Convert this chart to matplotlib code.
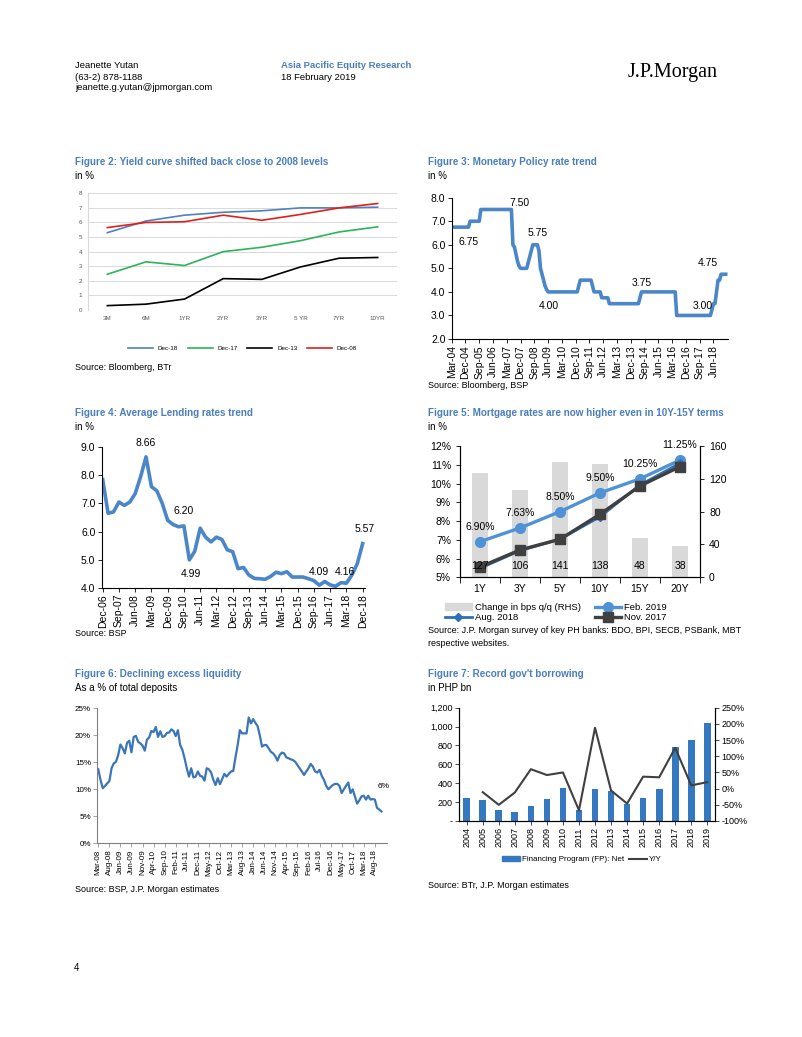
import numpy as np
import matplotlib
matplotlib.use("Agg")
import matplotlib.pyplot as plt
from matplotlib.patches import Patch
from matplotlib.lines import Line2D

plt.rcParams['font.family'] = ['Liberation Sans Narrow', 'Liberation Sans', 'DejaVu Sans']

# ---- data ----
# fig 2: yield curve
tenors = ['3M', '6M', '1YR', '2YR', '3YR', '5 YR', '7YR', '10YR']
dec18 = [5.3, 6.1, 6.5, 6.7, 6.8, 7.0, 7.0, 7.05]
dec17 = [2.45, 3.3, 3.05, 4.0, 4.3, 4.75, 5.35, 5.7]
dec13 = [0.3, 0.4, 0.75, 2.15, 2.1, 2.95, 3.55, 3.6]
dec08 = [5.65, 6.0, 6.05, 6.5, 6.15, 6.55, 7.0, 7.3]

# fig 3: policy rate, monthly Mar-04 .. Feb-19
policy_rate = ([6.75]*12 + [7.0]*7 + [7.5]*21 +
               [6.0, 5.9, 5.6, 5.3, 5.1] + [5.0]*5 + [5.25, 5.5, 5.75] + [6.0]*4 +
               [5.75, 5.0, 4.75, 4.5, 4.25, 4.1] + [4.0]*20 + [4.25] + [4.5]*8 +
               [4.25] + [4.0]*5 + [3.75]*5 + [3.5]*20 + [3.75] + [4.0]*23 +
               [3.0]*23 + [3.25, 3.5, 3.5, 4.0, 4.5, 4.5, 4.75, 4.75, 4.75, 4.75])
policy_ticks = ['Mar-04', 'Dec-04', 'Sep-05', 'Jun-06', 'Mar-07', 'Dec-07', 'Sep-08',
                'Jun-09', 'Mar-10', 'Dec-10', 'Sep-11', 'Jun-12', 'Mar-13', 'Dec-13',
                'Sep-14', 'Jun-15', 'Mar-16', 'Dec-16', 'Sep-17', 'Jun-18']
policy_notes = [('7.50', 44.6, 7.77), ('6.75', 11.3, 6.12), ('5.75', 56.4, 6.5),
                ('4.00', 63.6, 3.4), ('3.75', 124.4, 4.38), ('3.00', 164, 3.4),
                ('4.75', 167.5, 5.23)]

# fig 4: lending rates, quarterly Dec-06 .. Dec-18
lending = [7.85, 6.65, 6.7, 7.05, 6.93, 7.05, 7.35, 7.95, 8.66, 7.6, 7.45, 7.0, 6.4,
           6.25, 6.17, 6.2, 4.99, 5.3, 6.12, 5.8, 5.63, 5.8, 5.72, 5.35, 5.28, 4.68,
           4.72, 4.45, 4.33, 4.32, 4.3, 4.4, 4.55, 4.5, 4.57, 4.38, 4.38, 4.38, 4.32,
           4.25, 4.09, 4.22, 4.1, 4.05, 4.18, 4.16, 4.45, 4.85, 5.57]
lending_ticks = ['Dec-06', 'Sep-07', 'Jun-08', 'Mar-09', 'Dec-09', 'Sep-10', 'Jun-11',
                 'Mar-12', 'Dec-12', 'Sep-13', 'Jun-14', 'Mar-15', 'Dec-15', 'Sep-16',
                 'Jun-17', 'Mar-18', 'Dec-18']
lending_notes = [('8.66', 24, 9.14), ('6.20', 44.7, 6.73), ('4.99', 49, 4.48),
                 ('4.09', 120, 4.57), ('4.16', 134, 4.57), ('5.57', 145, 6.08)]

# fig 5: mortgage rates
terms = ['1Y', '3Y', '5Y', '10Y', '15Y', '20Y']
chg_bps = [127, 106, 141, 138, 48, 38]
feb19 = [6.90, 7.63, 8.50, 9.50, 10.25, 11.25]
aug18 = [5.48, 6.42, 7.03, 8.23, 9.92, 11.08]
nov17 = [5.55, 6.46, 7.03, 8.36, 9.87, 10.9]

# fig 6: excess liquidity, monthly Mar-08 .. Dec-18
liquidity = [13.7, 11.75, 10.2, 10.6, 11.1, 11.5, 13.9, 14.8, 15.1, 16.35, 18.3, 17.6,
             16.65, 18.6, 19.0, 16.85, 19.7, 19.9, 18.8, 18.5, 18.1, 17.15, 19.2, 19.6,
             20.8, 20.6, 21.55, 19.7, 20.75, 19.7, 19.85, 20.45, 20.5, 21.1, 20.8, 19.85,
             20.95, 18.2, 17.3, 15.75, 13.9, 12.35, 13.9, 12.2, 12.35, 13.3, 12.5, 12.35,
             11.6, 13.9, 13.7, 13.1, 11.75, 10.8, 12.05, 10.95, 11.9, 12.85, 12.35, 12.85,
             13.3, 13.4, 15.9, 18.2, 20.95, 20.35,
             20.35, 20.35, 23.3, 22.2, 23.0, 22.3, 21.7, 20.0, 17.9, 18.2, 18.2, 17.6,
             16.95, 16.65, 16.15, 15.3, 16.35, 16.8, 16.65, 15.9, 15.75, 15.55, 15.4,
             15.1, 14.5, 13.9, 13.3, 12.65, 13.3, 13.9, 14.7, 14.2, 13.3, 13.1, 13.6,
             12.5, 11.75, 10.65, 10.0, 10.4, 10.8, 11.0, 11.0, 10.65, 9.3, 10.0, 10.65,
             11.25, 9.3, 10.0, 8.7, 7.35, 7.95, 8.7, 8.8, 8.1, 8.8, 8.1, 8.2, 8.1, 6.55,
             6.25, 5.9]
liq_ticks = ['Mar-08', 'Aug-08', 'Jan-09', 'Jun-09', 'Nov-09', 'Apr-10', 'Sep-10',
             'Feb-11', 'Jul-11', 'Dec-11', 'May-12', 'Oct-12', 'Mar-13', 'Aug-13',
             'Jan-14', 'Jun-14', 'Nov-14', 'Apr-15', 'Sep-15', 'Feb-16', 'Jul-16',
             'Dec-16', 'May-17', 'Oct-17', 'Mar-18', 'Aug-18']

# fig 7: gov't borrowing
years = [str(y) for y in range(2004, 2020)]
fin_prog = [247, 222, 113, 99, 162, 233, 353, 116, 335, 318, 180, 244, 335, 780, 858, 1041]
yoy = [np.nan, -11, -50, -12, 60, 42, 50, -67, 188, -6, -46, 37, 35, 126, 10, 20]

# ---- layout helpers ----
W, H = 802, 1037
fig = plt.figure(figsize=(W / 100, H / 100), dpi=100)

def ax_at(x0, y0, x1, y1):
    return fig.add_axes([x0 / W, 1 - y1 / H, (x1 - x0) / W, (y1 - y0) / H])

def txt(x, y, s, **kw):
    kw.setdefault('va', 'center')
    fig.text(x / W, 1 - y / H, s, **kw)

blue_t = '#4A7EBB'
line_blue = '#4A86C8'

# header
txt(75, 66, 'Jeanette Yutan', fontsize=6.8, family='Liberation Sans')
txt(75, 77, '(63-2) 878-1188', fontsize=6.8, family='Liberation Sans')
txt(75, 88, 'jeanette.g.yutan@jpmorgan.com', fontsize=6.8, family='Liberation Sans')
txt(281, 66, 'Asia Pacific Equity Research', fontsize=6.8, family='Liberation Sans',
    color=blue_t, weight='bold')
txt(281, 77, '18 February 2019', fontsize=6.8, family='Liberation Sans')
txt(628, 72, 'J.P.Morgan', fontsize=14.5, family='Liberation Serif')
txt(74, 968, '4', fontsize=7, family='Liberation Sans')

def titles(x, y, t, sub):
    txt(x, y, t, fontsize=7.1, weight='bold', color=blue_t)
    txt(x, y + 14, sub, fontsize=7.0)

def source(x, y, s):
    txt(x, y, s, fontsize=6.5, va='top' if '\n' in s else 'center', linespacing=1.5)

# ---- Figure 2 ----
titles(75, 162, 'Figure 2: Yield curve shifted back close to 2008 levels', 'in %')
ax2 = ax_at(88, 193.3, 397, 310)
x = np.arange(len(tenors))
ax2.plot(x, dec18, color='#4F81BD', lw=1.2, label='Dec-18')
ax2.plot(x, dec17, color='#2DB35A', lw=1.2, label='Dec-17')
ax2.plot(x, dec13, color='black', lw=1.2, label='Dec-13')
ax2.plot(x, dec08, color='#E0201B', lw=1.2, label='Dec-08')
ax2.set_xlim(-0.5, 7.5)
ax2.set_ylim(0, 8)
ax2.set_yticks(range(9))
ax2.set_xticks(x)
ax2.set_xticklabels(tenors)
ax2.grid(axis='y', color='#D9D9D9', lw=0.7)
ax2.set_axisbelow(True)
for s in ['top', 'right', 'bottom']:
    ax2.spines[s].set_visible(False)
ax2.spines['left'].set_color('#D9D9D9')
ax2.tick_params(length=0, labelsize=4.5, colors='#595959', pad=4)
ax2.legend(loc='center', bbox_to_anchor=(0.5, -0.33), ncol=4, fontsize=4.5,
           frameon=False, handlelength=4, columnspacing=1.5)
source(75, 368, 'Source: Bloomberg, BTr')

# ---- Figure 3 ----
titles(428, 162, 'Figure 3: Monetary Policy rate trend', 'in %')
ax3 = ax_at(451.7, 197.7, 728, 339)
ax3.plot(np.arange(len(policy_rate)), policy_rate, color=line_blue, lw=2.6)
ax3.set_xlim(0, 180.5)
ax3.set_ylim(2, 8)
ax3.set_yticks(np.arange(2, 8.1, 1))
ax3.set_yticklabels(['%.1f' % v for v in np.arange(2, 8.1, 1)])
ax3.set_xticks(np.arange(0, len(policy_ticks) * 9, 9))
ax3.set_xticklabels(policy_ticks, rotation=90)
for s in ['top', 'right']:
    ax3.spines[s].set_visible(False)
ax3.tick_params(labelsize=7.5, length=3, width=0.6, pad=1.5)
for lab, xx, yy in policy_notes:
    ax3.text(xx, yy, lab, fontsize=7.5, ha='center', va='center', clip_on=False)
source(428, 385, 'Source: Bloomberg, BSP')

# ---- Figure 4 ----
titles(75, 412.7, 'Figure 4: Average Lending rates trend', 'in %')
ax4 = ax_at(101.7, 447.3, 365, 587.7)
ax4.plot(np.arange(len(lending)) * 3, lending, color=line_blue, lw=2.6)
ax4.set_xlim(-0.55, 145.3)
ax4.set_ylim(4, 9)
ax4.set_yticks(np.arange(4, 9.1, 1))
ax4.set_yticklabels(['%.1f' % v for v in np.arange(4, 9.1, 1)])
ax4.set_xticks(np.arange(0, len(lending_ticks) * 9, 9))
ax4.set_xticklabels(lending_ticks, rotation=90)
for s in ['top', 'right']:
    ax4.spines[s].set_visible(False)
ax4.tick_params(labelsize=7.5, length=3, width=0.6, pad=1.5)
for lab, xx, yy in lending_notes:
    ax4.text(xx, yy, lab, fontsize=7.5, ha='center', va='center', clip_on=False)
source(75, 634, 'Source: BSP')

# ---- Figure 5 ----
titles(428, 412.7, 'Figure 5: Mortgage rates are now higher even in 10Y-15Y terms', 'in %')
ax5 = ax_at(460, 446, 700, 577.3)
ax5r = ax5.twinx()
xt = np.arange(len(terms))
ax5r.bar(xt, chg_bps, width=0.4, color='#D9D9D9')
ax5r.set_ylim(0, 160)
ax5r.set_yticks(range(0, 161, 40))
ax5.set_zorder(ax5r.get_zorder() + 1)
ax5.patch.set_visible(False)
ax5.plot(xt, feb19, color='#4F93D6', lw=2.4, marker='o', ms=7)
ax5.plot(xt, aug18, color='#2F6FB5', lw=2, marker='D', ms=4)
ax5.plot(xt, nov17, color='#404040', lw=2.4, marker='s', ms=6.5)
for i, v in enumerate(feb19):
    ax5.text(i, v + 0.8, '%.2f%%' % v, fontsize=7.5, ha='center', va='center', clip_on=False)
for i, v in enumerate(chg_bps):
    ax5.text(i, 5.62, str(v), fontsize=7.5, ha='center', va='center', zorder=10)
ax5.set_xlim(-0.5, 5.5)
ax5.set_ylim(5, 12)
ax5.set_yticks(range(5, 13))
ax5.set_yticklabels(['%d%%' % v for v in range(5, 13)])
ax5.set_xticks(xt)
ax5.set_xticklabels(terms)
ax5.set_xticks(np.arange(-0.5, 6, 1), minor=True)
ax5.tick_params(axis='x', which='major', length=0, pad=5)
ax5.tick_params(axis='x', which='minor', length=4, width=0.6)
for a in (ax5, ax5r):
    a.spines['top'].set_visible(False)
    a.tick_params(labelsize=7.5)
    a.tick_params(axis='y', length=3, width=0.6)
h5 = [Patch(color='#D9D9D9'),
      Line2D([], [], color='#2F6FB5', lw=2, marker='D', ms=4),
      Line2D([], [], color='#4F93D6', lw=2.4, marker='o', ms=7),
      Line2D([], [], color='#404040', lw=2.4, marker='s', ms=6.5)]
l5 = ['Change in bps q/q (RHS)', 'Aug. 2018', 'Feb. 2019', 'Nov. 2017']
ax5.legend(h5, l5, loc='center', bbox_to_anchor=(0.40, -0.27), ncol=2, fontsize=6.8,
           frameon=False, handlelength=2.8, columnspacing=1.5, labelspacing=0.15,
           handletextpad=0.3)
source(428, 626, 'Source: J.P. Morgan survey of key PH banks: BDO, BPI, SECB, PSBank, MBT\nrespective websites.')

# ---- Figure 6 ----
titles(75, 674, 'Figure 6: Declining excess liquidity', 'As a % of total deposits')
ax6 = ax_at(97.3, 708.3, 387, 843.3)
ax6.plot(np.arange(len(liquidity)), liquidity, color='#3A76B6', lw=1.6)
ax6.set_xlim(-0.45, 130.5)
ax6.set_ylim(0, 25)
ax6.set_yticks(range(0, 26, 5))
ax6.set_yticklabels(['%d%%' % v for v in range(0, 26, 5)])
ax6.set_xticks(np.arange(0, len(liq_ticks) * 5, 5))
ax6.set_xticklabels(liq_ticks, rotation=90)
for s in ['top', 'right']:
    ax6.spines[s].set_visible(False)
ax6.spines['left'].set_color('#808080')
ax6.spines['bottom'].set_color('#808080')
ax6.tick_params(labelsize=5.8, length=3, width=0.5, color='#808080', pad=1.5)
ax6.text(129.1, 10.6, '6%', fontsize=6, ha='center', va='center', clip_on=False)
source(75, 890, 'Source: BSP, J.P. Morgan estimates')

# ---- Figure 7 ----
titles(428, 674, "Figure 7: Record gov't borrowing", 'in PHP bn')
ax7 = ax_at(458.7, 707.7, 715.3, 821)
x7 = np.arange(len(years))
ax7.bar(x7, fin_prog, width=0.42, color='#3478C0', label='Financing Program (FP): Net')
ax7.set_xlim(-0.5, len(years) - 0.5)
ax7.set_ylim(0, 1200)
ax7.set_yticks(range(0, 1201, 200))
ax7.set_yticklabels(['-'] + ['{:,}'.format(v) for v in range(200, 1201, 200)])
ax7.set_xticks(x7)
ax7.set_xticklabels(years, rotation=90)
ax7r = ax7.twinx()
ax7r.plot(x7, yoy, color='#404040', lw=1.5, label='Y/Y')
ax7r.set_ylim(-100, 250)
ax7r.set_yticks(range(-100, 251, 50))
ax7r.set_yticklabels(['%d%%' % v for v in range(-100, 251, 50)])
for a in (ax7, ax7r):
    a.spines['top'].set_visible(False)
    a.tick_params(labelsize=6.5, length=3, width=0.5, pad=1.5)
h7 = [Patch(color='#3478C0'), Line2D([], [], color='#404040', lw=1.5)]
ax7.legend(h7, ['Financing Program (FP): Net', 'Y/Y'], loc='center',
           bbox_to_anchor=(0.48, -0.34), ncol=2, fontsize=5.8, frameon=False,
           handlelength=2.2, columnspacing=0.6, handletextpad=0.3)
source(428, 885, 'Source: BTr, J.P. Morgan estimates')

fig.savefig('out.png', dpi=100)
